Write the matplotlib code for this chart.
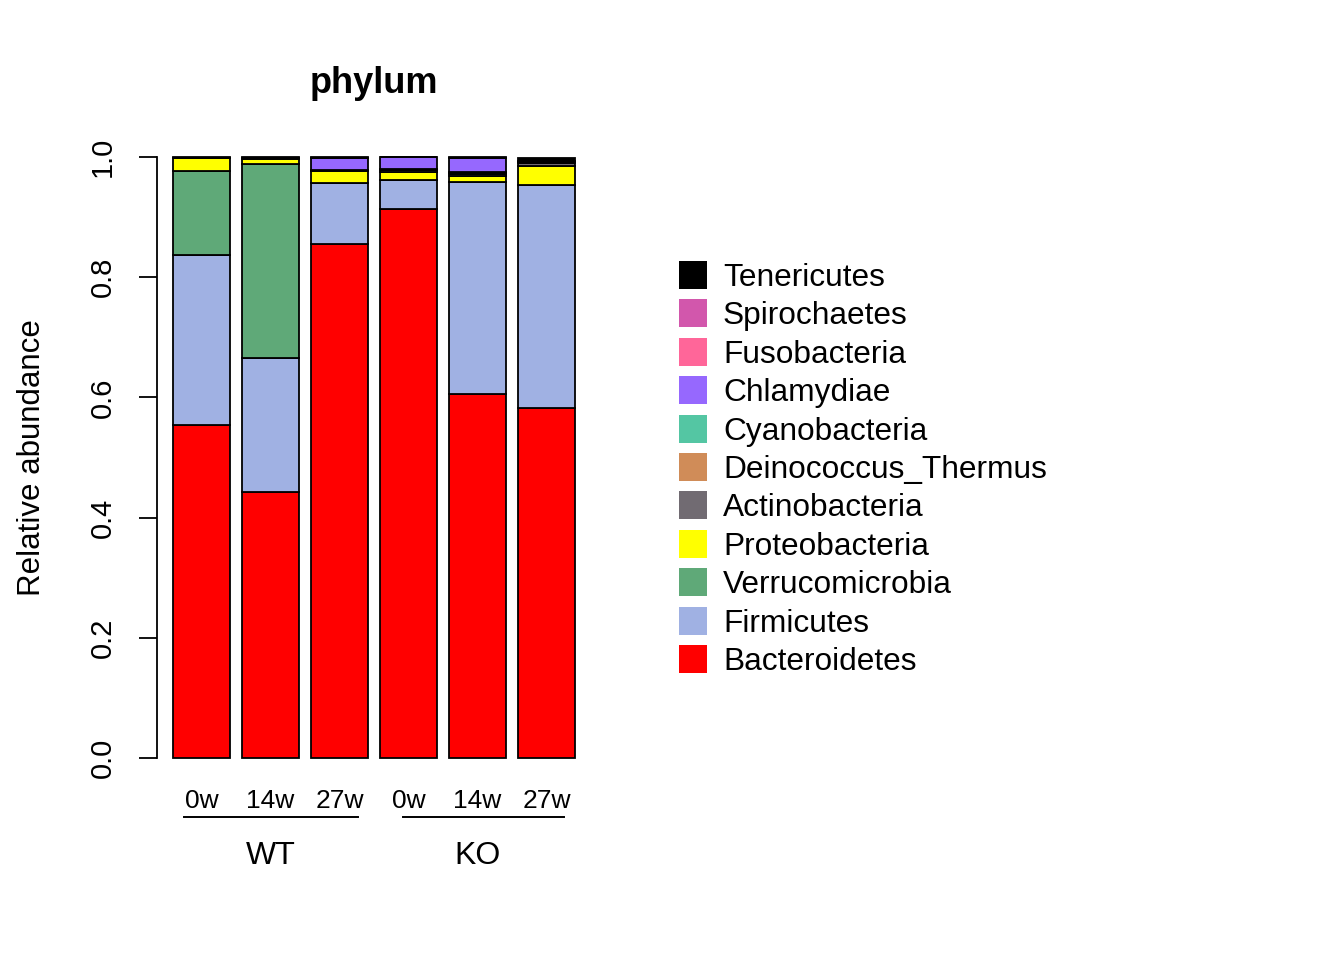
import matplotlib
matplotlib.use("Agg")
import matplotlib.pyplot as plt
from matplotlib.patches import Rectangle
import numpy as np

plt.rcParams["font.family"] = ["Liberation Sans", "DejaVu Sans"]

samples = ["0w", "14w", "27w", "0w", "14w", "27w"]
groups = ["WT", "KO"]

# stacked from bottom to top
phyla = ["Bacteroidetes", "Firmicutes", "Verrucomicrobia", "Proteobacteria",
         "Actinobacteria", "Deinococcus_Thermus", "Cyanobacteria", "Chlamydiae",
         "Fusobacteria", "Spirochaetes", "Tenericutes"]
colors = ["#FF0000", "#A0B1E3", "#5FA978", "#FFFF00", "#716B72", "#D08C58",
          "#54C6A3", "#9668FE", "#FF6699", "#D257AC", "#000000"]

bacteroidetes = [0.554, 0.443, 0.855, 0.913, 0.606, 0.582]
firmicutes = [0.283, 0.223, 0.102, 0.049, 0.352, 0.371]
verrucomicrobia = [0.140, 0.322, 0.000, 0.000, 0.000, 0.000]
proteobacteria = [0.021, 0.0095, 0.020, 0.014, 0.010, 0.032]
actinobacteria = [0.001, 0.001, 0.002, 0.002, 0.004, 0.005]
deinococcus = [0.000, 0.000, 0.000, 0.001, 0.001, 0.001]
cyanobacteria = [0.000, 0.000, 0.000, 0.001, 0.002, 0.001]
chlamydiae = [0.000, 0.000, 0.020, 0.020, 0.024, 0.000]
fusobacteria = [0.000, 0.000, 0.000, 0.000, 0.000, 0.000]
spirochaetes = [0.000, 0.000, 0.000, 0.000, 0.000, 0.001]
tenericutes = [0.001, 0.001, 0.001, 0.000, 0.001, 0.006]

values = [bacteroidetes, firmicutes, verrucomicrobia, proteobacteria,
          actinobacteria, deinococcus, cyanobacteria, chlamydiae,
          fusobacteria, spirochaetes, tenericutes]

fig = plt.figure(figsize=(13.44, 9.6), dpi=100)
ax = fig.add_axes([0.1166, 0.1854, 0.3235, 0.676])

x = 0.7 + 1.2 * np.arange(len(samples))
bottom = np.zeros(len(samples))
for vals, col in zip(values, colors):
    vals = np.array(vals)
    ax.bar(x, vals, width=1.0, bottom=bottom, color=col, edgecolor="black",
           linewidth=1.3)
    bottom += vals

ax.set_xlim(-0.08, 7.48)
ax.set_ylim(-0.04, 1.04)
for s in ["top", "right", "bottom"]:
    ax.spines[s].set_visible(False)
ax.spines["left"].set_bounds(0, 1)
ax.spines["left"].set_linewidth(1.3)
ax.set_yticks([0, 0.2, 0.4, 0.6, 0.8, 1.0])
ax.set_yticklabels(["0.0", "0.2", "0.4", "0.6", "0.8", "1.0"], rotation=90,
                   va="center", fontsize=21)
ax.tick_params(axis="y", length=13, width=1.3, pad=16)
ax.set_xticks(x)
ax.set_xticklabels(samples, fontsize=19)
ax.tick_params(axis="x", length=0, pad=5)
ax.set_ylabel("Relative abundance", fontsize=22.5, labelpad=30)
ax.set_title("phylum", fontsize=26, fontweight="bold", pad=29)

# group brackets under the sample labels
for (x0, x1), xc, name in zip([(0.40, 3.42), (4.20, 7.00)], [x[1], x[4]], groups):
    ax.plot([x0, x1], [-0.099, -0.099], color="black", lw=1.4,
            clip_on=False, transform=ax.transData)
    ax.text(xc, -0.163, name, ha="center", va="center",
            fontsize=23, clip_on=False)

# legend, drawn in figure pixels
W, H = 1344.0, 960.0
for i, (name, col) in enumerate(zip(phyla[::-1], colors[::-1])):
    yc = 275 + 38.4 * i
    fig.patches.append(Rectangle((679 / W, 1 - (yc + 14) / H), 28 / W, 28 / H,
                                 transform=fig.transFigure, facecolor=col,
                                 edgecolor="none"))
    fig.text(723 / W, 1 - (yc + 3) / H, name, fontsize=22.8, va="center",
             ha="left")

fig.savefig("out.png", dpi=100)
